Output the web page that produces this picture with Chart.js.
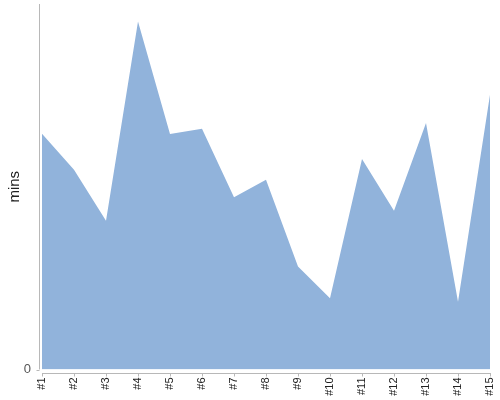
<!DOCTYPE html>
<html>
<head>
<meta charset="utf-8">
<script src="https://cdn.jsdelivr.net/npm/chart.js@4"></script>
<style>
  html, body { margin: 0; padding: 0; background: #fff; }
  #wrap { width: 500px; height: 400px; position: relative; }
</style>
</head>
<body>
<div id="wrap"><canvas id="chart"></canvas></div>
<script>
const labels = ["#1", "#2", "#3", "#4", "#5", "#6", "#7", "#8", "#9", "#10", "#11", "#12", "#13", "#14", "#15"];
const minutes = [235.5, 199.5, 148.5, 347.8, 235.2, 240.5, 172.2, 189.5, 102.8, 71.2, 210.2, 158.5, 246.2, 67.8, 274.5];
const yTicks = [0];
const yMax = Math.max(...minutes) * 1.05;

// axis lines sit a few px off the plot area, like the original
const offsetAxes = {
  id: "offsetAxes",
  afterDraw(chart) {
    const { ctx, chartArea } = chart;
    const x = chart.scales.x;
    const y = chart.scales.y;
    ctx.save();
    ctx.strokeStyle = "#b8b8b8";
    ctx.lineWidth = 1;
    ctx.beginPath();
    const ax = Math.round(chartArea.left - 3) + 0.5;
    ctx.moveTo(ax, chartArea.top);
    ctx.lineTo(ax, chartArea.bottom);
    yTicks.forEach(t => {
      const py = Math.round(y.getPixelForValue(t)) + 0.5;
      ctx.moveTo(ax - 3, py);
      ctx.lineTo(ax, py);
    });
    const by = Math.round(chartArea.bottom + 3) + 0.5;
    ctx.moveTo(chartArea.left, by);
    ctx.lineTo(chartArea.right + 1, by);
    labels.forEach((l, i) => {
      const px = Math.round(x.getPixelForValue(i)) + 0.5;
      ctx.moveTo(px, by);
      ctx.lineTo(px, by + 3);
    });
    ctx.stroke();
    ctx.restore();
  }
};

function noPad(s) {
  s.paddingTop = 0;
  s.paddingBottom = 0;
  s.paddingLeft = 0;
  s.paddingRight = 0;
}

new Chart(document.getElementById("chart"), {
  type: "line",
  data: {
    labels: labels,
    datasets: [{
      data: minutes,
      fill: "origin",
      backgroundColor: "#91b3db",
      borderWidth: 0,
      pointRadius: 0,
      tension: 0
    }]
  },
  options: {
    responsive: true,
    maintainAspectRatio: false,
    animation: false,
    layout: { padding: { top: 4, right: 10, left: 0, bottom: 0 } },
    plugins: { legend: { display: false }, tooltip: { enabled: false } },
    scales: {
      x: {
        offset: false,
        grid: { display: false, drawTicks: false },
        border: { display: false },
        ticks: {
          autoSkip: false,
          minRotation: 90,
          maxRotation: 90,
          padding: 8,
          color: "#222",
          font: { family: "Arial, 'Liberation Sans', sans-serif", size: 11 }
        },
        afterFit: s => { s.height = 30.5; noPad(s); }
      },
      y: {
        min: 0,
        max: yMax,
        grid: { display: false, drawTicks: false },
        border: { display: false },
        afterBuildTicks: s => { s.ticks = yTicks.map(v => ({ value: v })); },
        ticks: {
          padding: 11,
          color: "#555",
          font: { family: "Arial, 'Liberation Sans', sans-serif", size: 13 }
        },
        title: {
          display: true,
          text: "mins",
          color: "#222",
          padding: { top: 6, bottom: 0 },
          font: { family: "Arial, 'Liberation Sans', sans-serif", size: 15 }
        },
        afterFit: s => { s.width = 42; noPad(s); }
      }
    }
  },
  plugins: [offsetAxes]
});
</script>
</body>
</html>
